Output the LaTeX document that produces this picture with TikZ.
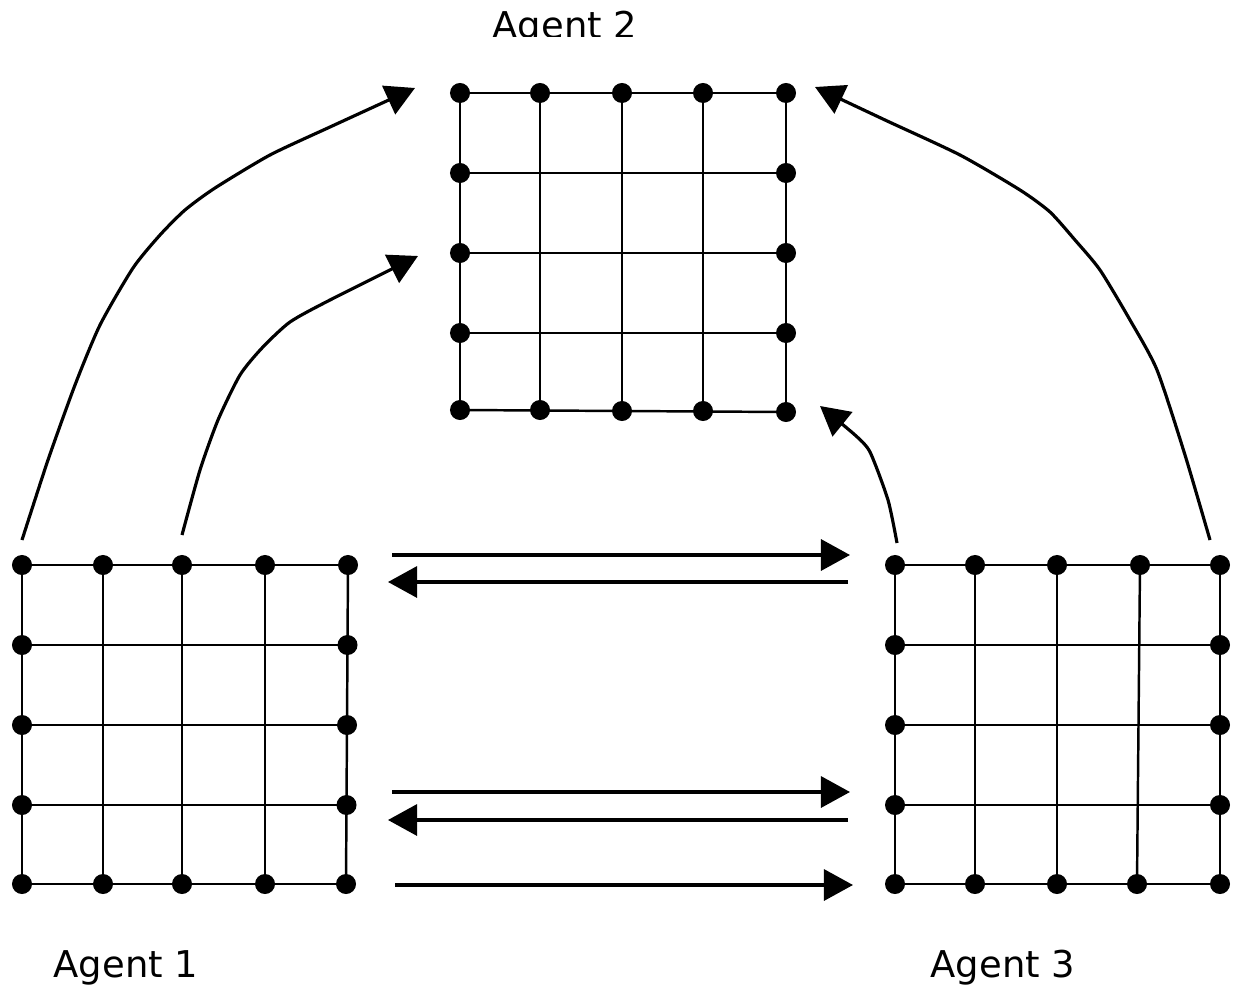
\documentclass[tikz,border=0pt]{standalone}
\usepackage{fontspec}
\setmainfont{DejaVu Sans}
\usetikzlibrary{arrows.meta}
\begin{document}
\begin{tikzpicture}[x=0.01cm,y=-0.01cm,
  gl/.style={line width=0.7pt},
  dot/.style={circle,fill=black,inner sep=0pt,minimum size=0.2cm},
  arr/.style={line width=0.9pt,-{Triangle[length=0.29cm,width=0.31cm]}},
  lbl/.style={font=\fontsize{10.5}{12}\selectfont,anchor=base west,inner sep=0pt}]
\useasboundingbox (0,0) rectangle (1236,991);

% ---------- Agent 2 grid ----------
\foreach \x in {460,540,622,703,786} \draw[gl] (\x,93) -- (\x,411);
\foreach \y in {93,173,253,333} \draw[gl] (460,\y) -- (786,\y);
\draw[gl] (460,410) -- (786,412);
\foreach \x/\y [count=\i] in {460/93,540/93,622/93,703/93,786/93,
  460/173,460/253,460/333,786/173,786/253,786/333,
  460/410,540/410,622/411,703/411,786/412}
  \node[dot] (b\i) at (\x,\y) {};

% ---------- Agent 1 grid ----------
\foreach \x in {22,103,182,265} \draw[gl] (\x,565) -- (\x,884);
\draw[gl] (348,565) -- (346,884);
\foreach \y/\r in {565/348,645/347.5,725/347,805/346.5,884/346} \draw[gl] (22,\y) -- (\r,\y);
\foreach \x/\y [count=\i] in {22/565,103/565,182/565,265/565,348/565,
  22/645,22/725,22/805,347.5/645,347/725,346.5/805,
  22/884,103/884,182/884,265/884,346/884}
  \node[dot] (a\i) at (\x,\y) {};

% ---------- Agent 3 grid ----------
\foreach \x in {895,975,1057,1220} \draw[gl] (\x,565) -- (\x,884);
\draw[gl] (1140,565) -- (1137,884);
\foreach \y in {565,645,725,805,884} \draw[gl] (895,\y) -- (1220,\y);
\foreach \x/\y [count=\i] in {895/565,975/565,1057/565,1140/565,1220/565,
  895/645,895/725,895/805,1220/645,1220/725,1220/805,
  895/884,975/884,1057/884,1137/884,1220/884}
  \node[dot] (c\i) at (\x,\y) {};

% ---------- horizontal arrows ----------
\coordinate (h1s) at (392,555);  \coordinate (h1e) at (850,555);
\coordinate (h2s) at (848,582);  \coordinate (h2e) at (388,582);
\coordinate (h3s) at (392,792);  \coordinate (h3e) at (850,792);
\coordinate (h4s) at (848,820);  \coordinate (h4e) at (388,820);
\coordinate (h5s) at (395,885);  \coordinate (h5e) at (853,885);
\draw[arr] (h1s) -- (h1e);
\draw[arr] (h2s) -- (h2e);
\draw[arr] (h3s) -- (h3e);
\draw[arr] (h4s) -- (h4e);
\draw[arr] (h5s) -- (h5e);

% ---------- curved arrows ----------
\coordinate (k1s) at (22,540);   \coordinate (k1e) at (415,88);
\coordinate (k2s) at (182,535);  \coordinate (k2e) at (418,256);
\coordinate (k3s) at (1210,540); \coordinate (k3e) at (815,87);
\coordinate (k4s) at (897,543);  \coordinate (k4e) at (820,406);
\draw[arr] plot[smooth,tension=0.4] coordinates {(k1s) (48,460) (75,385) (100,325) (133,268) (160,235) (185,210) (215,188) (270,155) (330,127) (k1e)};
\draw[arr] plot[smooth,tension=0.4] coordinates {(k2s) (200,470) (218,420) (240,375) (262,348) (290,322) (330,300) (k2e)};
\draw[arr] plot[smooth,tension=0.4] coordinates {(k3s) (1185,455) (1157,370) (1130,320) (1100,270) (1075,240) (1050,212) (1020,190) (960,155) (885,120) (k3e)};
\draw[arr] plot[smooth,tension=0.4] coordinates {(k4s) (888,500) (870,452) (855,435) (k4e)};

% ---------- labels ----------
\node[lbl] (t1) at (53,977) {Agent 1};
\node[lbl] (t3) at (930,977) {Agent 3};
\begin{scope}
  \clip (0,0) rectangle (1236,37);
  \node[lbl] (t2) at (492,39) {Agent 2};
\end{scope}
\end{tikzpicture}
\end{document}
